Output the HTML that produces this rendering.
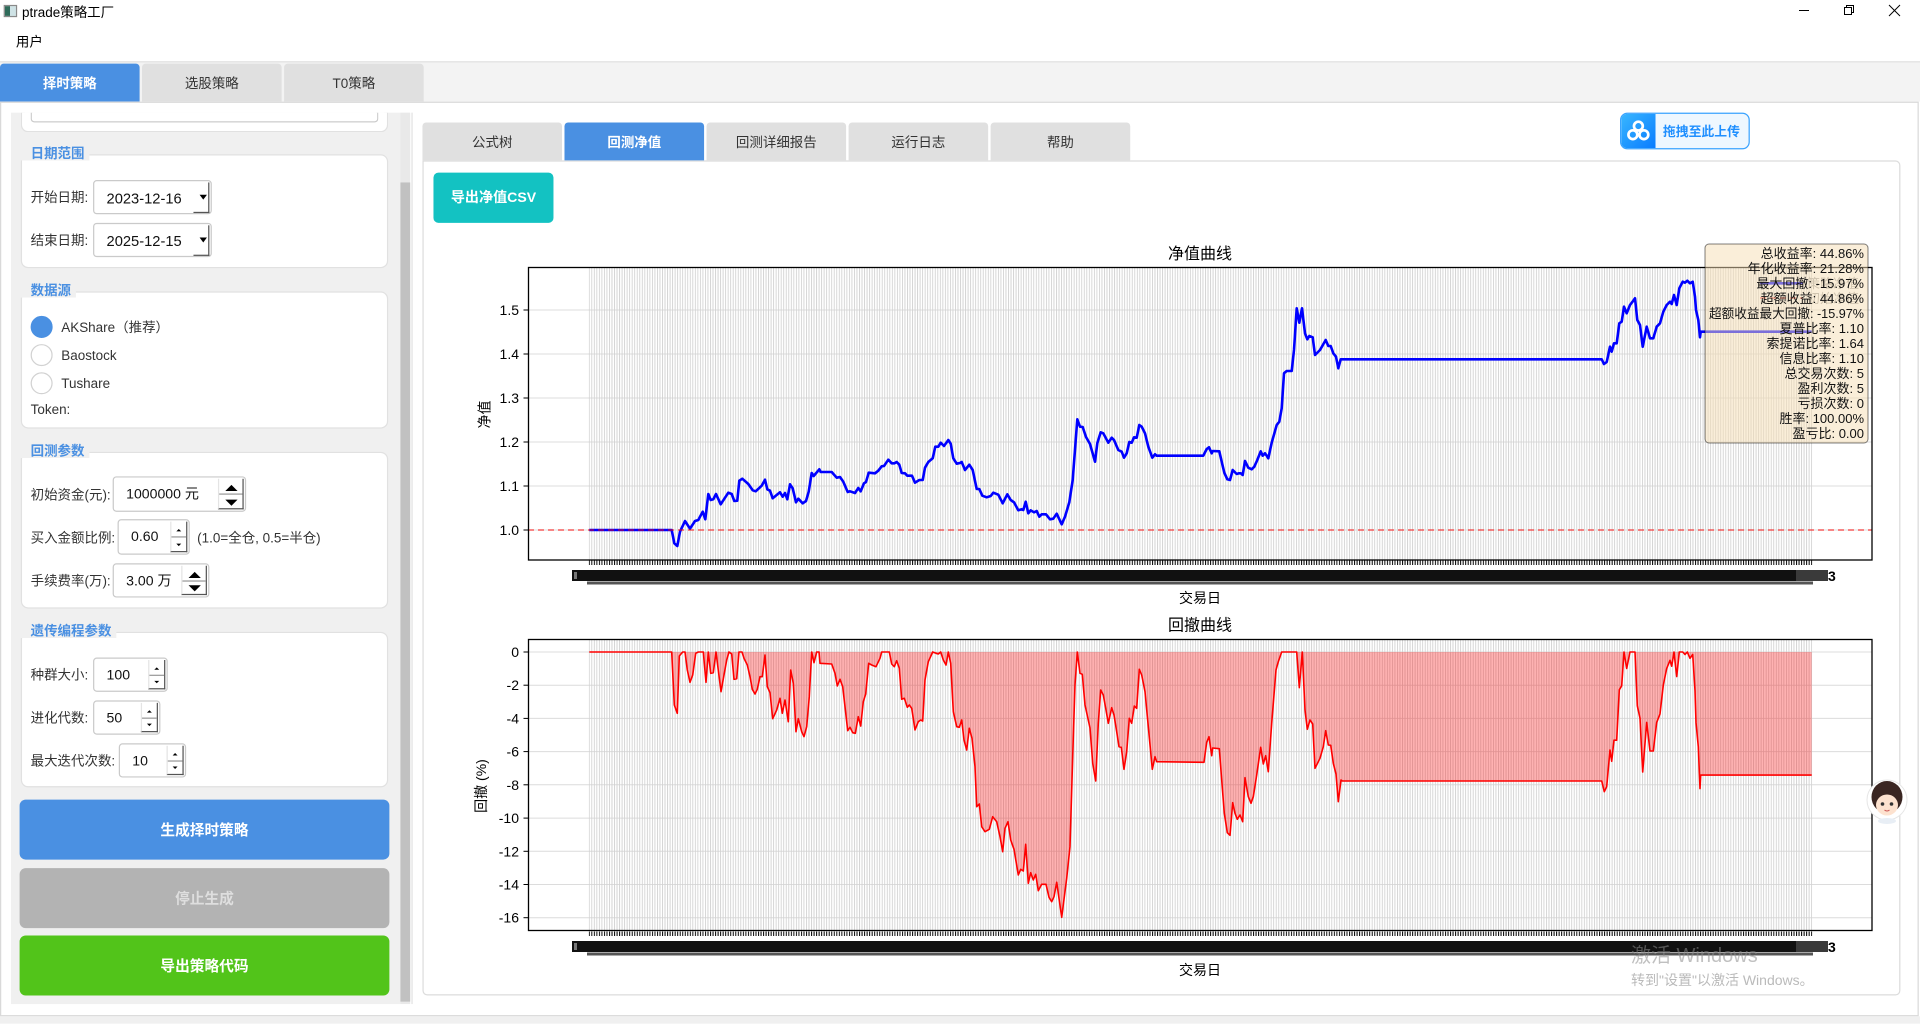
<!DOCTYPE html>
<html><head><meta charset="utf-8">
<style>
*{margin:0;padding:0;box-sizing:border-box}
html,body{width:1920px;height:1024px;overflow:hidden;background:#fff}
body{font-family:"Liberation Sans","Noto Sans CJK SC",sans-serif;position:relative}
#ui{position:absolute;left:0;top:0;width:1568px;height:836px;transform:scale(1.2244898);transform-origin:0 0;background:#fff;font-size:11px;color:#333}
.a{position:absolute}
.tab{position:absolute;background:#e0e0e0;color:#333;text-align:center;font-size:11px;border-radius:3px 3px 0 0;line-height:35px}
.tab.sel{background:#4a90e2;color:#fff;font-weight:bold}
.gb{position:absolute;left:17px;width:300px;background:#fff;border:1px solid #e1e1e1;border-radius:6px}
.gt{position:absolute;left:17px;height:14px;line-height:18px;padding:0 4px 0 8px;background:#f0f0f0;color:#4a90e2;font-weight:bold;font-size:11px;white-space:nowrap}
.lbl{position:absolute;font-size:11px;line-height:17px;color:#333;white-space:nowrap}
.box{position:absolute;background:#fff;border:1px solid #cacaca;border-radius:3px}
.val{position:absolute;left:10px;top:1px;font-size:11.5px;color:#111;white-space:nowrap}
.sb{position:absolute;right:1px;top:1px;bottom:1px;border-right:1px solid #555;border-bottom:1px solid #555;border-left:1px solid #e4e4e4}
.sb .mid{position:absolute;left:0;right:0;top:50%;height:1px;background:#999}
.tu{position:absolute;left:50%;width:0;height:0;border-left:5px solid transparent;border-right:5px solid transparent;border-bottom:5px solid #000;transform:translateX(-50%)}
.td{position:absolute;left:50%;width:0;height:0;border-left:5px solid transparent;border-right:5px solid transparent;border-top:5px solid #000;transform:translateX(-50%)}
.stu{position:absolute;left:50%;width:0;height:0;border-left:2px solid transparent;border-right:2px solid transparent;border-bottom:2px solid #000;transform:translateX(-50%)}
.std{position:absolute;left:50%;width:0;height:0;border-left:2px solid transparent;border-right:2px solid transparent;border-top:2px solid #000;transform:translateX(-50%)}
.rad{position:absolute;left:25px;width:18px;height:18px;border-radius:50%;background:#fff;border:1.5px solid #d2d2d2}
.btn{position:absolute;left:16px;width:302px;height:49px;border-radius:5px;color:#fff;font-weight:bold;font-size:12px;text-align:center;line-height:51px}
</style></head><body>
<div id="ui">
 <!-- title bar -->
 <div class="a" style="left:3px;top:4px;width:11px;height:10px;border:1px solid #8a8a8a;background:linear-gradient(90deg,#2f6b5a 0 45%,#cfe3e6 45%)"></div>
 <div class="a" style="left:18px;top:3px;font-size:11px;line-height:16px;color:#000">ptrade策略工厂</div>
 <div class="a" style="left:13px;top:28px;font-size:11px;line-height:15px;color:#000">用户</div>
 <div class="a" style="left:0;top:50px;width:1568px;height:1px;background:#dedede"></div>
 <div class="a" style="left:0;top:51px;width:1568px;height:32px;background:#f3f3f3"></div>
 <div class="tab sel" style="left:0;top:52px;width:114px;height:31px">择时策略</div>
 <div class="tab" style="left:116px;top:52px;width:114px;height:31px">选股策略</div>
 <div class="tab" style="left:232px;top:52px;width:114px;height:31px">T0策略</div>
 <!-- main pane -->
 <div class="a" style="left:0;top:83px;width:1567px;height:747px;border:1px solid #d9d9d9;background:#fff"></div>
 <div class="a" style="left:0;top:830px;width:1568px;height:6px;background:#f0f0f0"></div>

 <!-- left scroll area -->
 <div class="a" style="left:9px;top:92px;width:318px;height:728px;background:#f0f0f0"></div>
 <div class="a" style="left:327px;top:92px;width:8px;height:728px;background:#e9e9e9"></div>
 <div class="a" style="left:327px;top:149px;width:8px;height:669px;background:#c1c1c1"></div>
 <div class="a" style="left:336px;top:92px;width:1px;height:728px;background:#e2e2e2"></div>

 <!-- partial box -->
 <div class="a" style="left:17px;top:92px;width:300px;height:16px;background:#fff;border:1px solid #e1e1e1;border-top:none;border-radius:0 0 6px 6px"></div>
 <div class="a" style="left:25px;top:92px;width:284px;height:8px;background:#fff;border:1px solid #cacaca;border-top:none;border-radius:0 0 3px 3px"></div>

 <!-- 日期范围 -->
 <div class="gb" style="top:126px;height:93px"></div>
 <div class="gt" style="top:117px">日期范围</div>
 <div class="lbl" style="left:25px;top:154px">开始日期:</div>
 <div class="box" style="left:76px;top:147px;width:97px;height:28px"><div class="val" style="font-size:12px;line-height:26px">2023-12-16</div>
   <div class="a" style="right:1px;top:1px;width:13px;height:25px;border-right:1.5px solid #555;border-bottom:1.5px solid #555"></div>
   <div class="td" style="left:89px;top:11px;border-left-width:3px;border-right-width:3px;border-top-width:4px"></div></div>
 <div class="lbl" style="left:25px;top:189px">结束日期:</div>
 <div class="box" style="left:76px;top:182px;width:97px;height:28px"><div class="val" style="font-size:12px;line-height:26px">2025-12-15</div>
   <div class="a" style="right:1px;top:1px;width:13px;height:25px;border-right:1.5px solid #555;border-bottom:1.5px solid #555"></div>
   <div class="td" style="left:89px;top:11px;border-left-width:3px;border-right-width:3px;border-top-width:4px"></div></div>

 <!-- 数据源 -->
 <div class="gb" style="top:238px;height:112px"></div>
 <div class="gt" style="top:229px">数据源</div>
 <div class="rad" style="top:258px;background:#4a90e2;border-color:#4a90e2"></div>
 <div class="lbl" style="left:50px;top:260px">AKShare（推荐）</div>
 <div class="rad" style="top:281px"></div>
 <div class="lbl" style="left:50px;top:283px">Baostock</div>
 <div class="rad" style="top:304px"></div>
 <div class="lbl" style="left:50px;top:306px">Tushare</div>
 <div class="lbl" style="left:25px;top:327px">Token:</div>

 <!-- 回测参数 -->
 <div class="gb" style="top:369px;height:128px"></div>
 <div class="gt" style="top:360px">回测参数</div>
 <div class="lbl" style="left:25px;top:397px">初始资金(元):</div>
 <div class="box" style="left:92px;top:389px;width:109px;height:29px"><div class="val" style="line-height:27px">1000000 元</div>
   <div class="sb" style="width:21px"><div class="mid"></div><div class="tu" style="top:5px"></div><div class="td" style="top:17px"></div></div></div>
 <div class="lbl" style="left:25px;top:432px">买入金额比例:</div>
 <div class="box" style="left:96px;top:424px;width:59px;height:29px"><div class="val" style="line-height:27px">0.60</div>
   <div class="sb" style="width:14px"><div class="mid"></div><div class="stu" style="top:6px"></div><div class="std" style="top:18px"></div></div></div>
 <div class="lbl" style="left:161px;top:432px">(1.0=全仓, 0.5=半仓)</div>
 <div class="lbl" style="left:25px;top:467px">手续费率(万):</div>
 <div class="box" style="left:92px;top:460px;width:79px;height:28px"><div class="val" style="line-height:26px">3.00 万</div>
   <div class="sb" style="width:21px"><div class="mid"></div><div class="tu" style="top:5px"></div><div class="td" style="top:16px"></div></div></div>

 <!-- 遗传编程参数 -->
 <div class="gb" style="top:516px;height:127px"></div>
 <div class="gt" style="top:507px">遗传编程参数</div>
 <div class="lbl" style="left:25px;top:544px">种群大小:</div>
 <div class="box" style="left:76px;top:537px;width:61px;height:28px"><div class="val" style="line-height:26px">100</div>
   <div class="sb" style="width:14px"><div class="mid"></div><div class="stu" style="top:6px"></div><div class="std" style="top:17px"></div></div></div>
 <div class="lbl" style="left:25px;top:579px">进化代数:</div>
 <div class="box" style="left:76px;top:572px;width:55px;height:28px"><div class="val" style="line-height:26px">50</div>
   <div class="sb" style="width:14px"><div class="mid"></div><div class="stu" style="top:6px"></div><div class="std" style="top:17px"></div></div></div>
 <div class="lbl" style="left:25px;top:614px">最大迭代次数:</div>
 <div class="box" style="left:97px;top:607px;width:55px;height:28px"><div class="val" style="line-height:26px">10</div>
   <div class="sb" style="width:14px"><div class="mid"></div><div class="stu" style="top:6px"></div><div class="std" style="top:17px"></div></div></div>

 <div class="btn" style="top:653px;background:#4a90e2">生成择时策略</div>
 <div class="btn" style="top:709px;background:#b3b3b3;color:#dedede">停止生成</div>
 <div class="btn" style="top:764px;background:#52c41a">导出策略代码</div>

 <!-- right side -->
 <div class="a" style="left:345px;top:131px;width:1207px;height:682px;border:1px solid #dcdcdc;border-radius:0 4px 4px 4px;background:#fff"></div>
 <div class="tab" style="left:345px;top:100px;width:114px;height:31px">公式树</div>
 <div class="tab sel" style="left:461px;top:100px;width:114px;height:31px">回测净值</div>
 <div class="tab" style="left:577px;top:100px;width:114px;height:31px">回测详细报告</div>
 <div class="tab" style="left:693px;top:100px;width:114px;height:31px">运行日志</div>
 <div class="tab" style="left:809px;top:100px;width:114px;height:31px">帮助</div>

 <div class="a" style="left:354px;top:141px;width:98px;height:41px;background:#13c2c2;border-radius:4px;color:#fff;font-weight:bold;font-size:11.5px;text-align:center;line-height:43px">导出净值CSV</div>

 <div class="a" style="left:1323px;top:92px;width:106px;height:30px;border:1px solid #3aa3ff;border-radius:6px;background:#eef7ff;overflow:hidden">
   <div class="a" style="left:0;top:0;width:28px;height:28px;background:linear-gradient(135deg,#38b6ff,#0a7cff)">
     <svg width="28" height="28" style="position:absolute;left:0;top:0"><g fill="none" stroke="#fff" stroke-width="2.2"><circle cx="14" cy="10" r="3.6"/><circle cx="9.5" cy="17" r="3.6"/><circle cx="18.5" cy="17" r="3.6"/></g></svg>
   </div>
   <div class="a" style="left:34px;top:1px;line-height:29px;font-size:10.5px;font-weight:bold;color:#1f8fff;white-space:nowrap">拖拽至此上传</div>
 </div>
</div>

<svg width="1920" height="1024" viewBox="0 0 1920 1024" style="position:absolute;left:0;top:0" font-family="Liberation Sans, Noto Sans CJK SC, sans-serif">
 <defs>
  <pattern id="vg" patternUnits="userSpaceOnUse" x="588.8" y="0" width="2.5256" height="20"><rect x="0" y="0" width="0.9" height="20" fill="#d2d2d2"/></pattern>
  <pattern id="tk" patternUnits="userSpaceOnUse" x="588.8" y="0" width="2.5256" height="20"><rect x="0" y="0" width="1" height="20" fill="#000"/></pattern>
 </defs>
 <!-- window controls -->
 <g stroke="#000" stroke-width="1" fill="none">
  <line x1="1799" y1="10.5" x2="1809" y2="10.5"/>
  <rect x="1844.5" y="7.5" width="7" height="7"/>
  <polyline points="1846.5,7.5 1846.5,5.5 1853.5,5.5 1853.5,12.5 1851.5,12.5"/>
  <line x1="1889" y1="5" x2="1900" y2="16"/><line x1="1900" y1="5" x2="1889" y2="16"/>
 </g>

 <!-- ===== Chart 1 ===== -->
 <g stroke="#dcdcdc" stroke-width="1">
  <line x1="528" y1="310" x2="1872" y2="310"/><line x1="528" y1="354" x2="1872" y2="354"/>
  <line x1="528" y1="398" x2="1872" y2="398"/><line x1="528" y1="442" x2="1872" y2="442"/>
  <line x1="528" y1="486" x2="1872" y2="486"/><line x1="528" y1="530" x2="1872" y2="530"/>
 </g>
 <rect x="588.8" y="267" width="1223.4" height="293" fill="url(#vg)"/>
 <polyline fill="none" stroke="#0000ff" stroke-width="2.6" stroke-linejoin="round" points="589.3,530 671.7,530 674.3,543.3 677.3,546 680,531.7 685,521 690,528.7 695,521 698.3,520 702.7,511.7 705.3,519.3 708.3,494 710.7,500 713.3,499.3 716,494 720.7,504.3 728.3,492.7 731.7,494 734.3,501 737.3,500.7 739.3,480.7 742.3,478.7 748.3,484 752.7,490.3 755.7,491.3 761.7,485.7 765,479.7 767.3,489.3 770,490.7 772.7,498.3 780,492.3 782.7,496.7 785,493 787.3,499.3 790,484.3 792.7,488.3 796,502.3 798.3,498.7 802.7,503.3 806,501 808.7,491.7 811.7,473 813.7,476 819.3,469.3 820.7,472 831.7,472 836.7,477.7 840,477 843.3,481.7 847.7,492 850,491.3 855,493 858.3,488 860.7,491.3 864,483.3 866,482 868.7,472.7 875,473.3 878.3,470.7 881.7,466.3 884,466 888.3,459.7 891.7,463.3 894.3,463.3 896.7,462 899.3,464.7 901.7,473 905,473.3 907.3,475.7 912,475.7 915,482.7 919.3,480 922.7,480 925,467.7 928.3,462 932.7,458.3 935.3,446.7 938.3,446.7 940.7,442.7 944,446 948.3,440 950.7,443.7 953.3,458.3 956.7,463.7 960,463 961.7,462 965,470 969.3,464.7 972.7,470 976.7,489 979.3,489 982.3,495.7 986.7,497.3 990.7,496 993.3,492.7 998.3,494.7 1002.7,503.3 1007.3,494.3 1010.7,500 1014,502.3 1018.3,510.3 1021.7,509.3 1023.3,510 1025.7,501.7 1028.3,513.3 1030.7,510.3 1034,512.3 1036.7,511 1039.3,516.7 1041.7,514.3 1046,514.3 1050,519.3 1053.3,518.7 1056.7,513.7 1061.7,524.3 1065,516.7 1069.3,502.3 1072.7,480 1077.3,419.3 1080,426.7 1082.7,427 1086,437 1090,444 1095,461.7 1097.3,443.3 1100.7,432.3 1103.3,433.3 1108.3,442.7 1111.7,437.7 1114,440 1118.3,450 1121.7,451.7 1124,457.7 1126.7,453.3 1129.3,442 1131.7,442.7 1134,437.3 1136.7,437.7 1139.3,425 1141.7,426.7 1145,433.3 1148.3,446.7 1152.3,457.7 1155,454.3 1156.7,455.7 1203.3,455.7 1206.7,449 1209,447.3 1211.7,453.3 1212.7,451 1219.3,451.3 1221.7,461.7 1224.3,472.7 1227.3,479.3 1230,480 1232.7,470 1236.7,474 1239,473.3 1240.7,473.3 1242.7,475 1245,461 1248.3,467.7 1251.7,469.3 1254.3,466.7 1257.3,460 1260.7,451.3 1262.7,455.7 1265,453.3 1266.7,455.7 1268.3,458.3 1271.7,442.7 1276.7,425 1279.3,421.7 1281.7,408.3 1284,373.3 1286.7,371 1291.7,371 1294,350 1296.7,308.3 1299.3,322.7 1302,308.3 1305,333.3 1307.3,339.3 1309.3,336 1312.7,337.3 1315,355 1320,350 1325.7,340 1328.3,346 1330.7,346 1333.3,353.3 1336,356.7 1338.3,368.3 1340.7,359.3 1601.7,359.3 1604,364 1606.7,362 1610,346.7 1611.7,351.7 1614,343.3 1616.7,343.3 1619.3,323.3 1621.7,321.7 1624,306.7 1626.7,313.3 1630,305 1633.3,300.7 1635,298.3 1637.3,320 1640,325 1642.7,346.7 1646.7,326.7 1650,338.3 1653.3,338.3 1656.7,326.7 1660,323.3 1663.3,311.7 1666.7,305 1670,301.7 1671.7,304 1674,295 1676.7,305 1679.3,288.3 1682.7,281.7 1685,282.7 1687.3,280.7 1690,283.3 1692.7,281.7 1695,296.7 1696,310 1698.3,320 1700,337.3 1700.7,331.7 1811.7,331.7"/>
 <line x1="528" y1="530" x2="1872" y2="530" stroke="#ff0000" stroke-opacity="0.6" stroke-width="1.6" stroke-dasharray="6 4"/>
 <rect x="528.5" y="267.5" width="1343.5" height="292.5" fill="none" stroke="#000" stroke-width="1.3"/>
 <g stroke="#000" stroke-width="1">
  <line x1="523.5" y1="310" x2="528" y2="310"/><line x1="523.5" y1="354" x2="528" y2="354"/>
  <line x1="523.5" y1="398" x2="528" y2="398"/><line x1="523.5" y1="442" x2="528" y2="442"/>
  <line x1="523.5" y1="486" x2="528" y2="486"/><line x1="523.5" y1="530" x2="528" y2="530"/>
 </g>
 <g font-size="14" fill="#000" text-anchor="end">
  <text x="519" y="315">1.5</text><text x="519" y="359">1.4</text><text x="519" y="403">1.3</text>
  <text x="519" y="447">1.2</text><text x="519" y="491">1.1</text><text x="519" y="535">1.0</text>
 </g>
 <rect x="588.8" y="560.5" width="1223.4" height="4.5" fill="url(#tk)"/>
 <rect x="572" y="570" width="1224" height="11" fill="#111"/>
 <rect x="574" y="572" width="3" height="7" fill="#777"/>
 <rect x="1796" y="570" width="32" height="11" fill="#3a3a3a"/>
 <text x="1828" y="581" font-size="14" font-weight="bold" fill="#000">3</text>
 <rect x="587" y="581.5" width="1226" height="3" fill="#555"/>
 <text x="1200" y="259" font-size="16" text-anchor="middle" fill="#000">净值曲线</text>
 <text x="1200" y="603" font-size="14" text-anchor="middle" fill="#000">交易日</text>
 <text transform="translate(484.7,414.5) rotate(-90)" y="5" font-size="14" text-anchor="middle" fill="#000">净值</text>

 <!-- legend (mostly hidden) -->
 <line x1="1760" y1="283.3" x2="1803" y2="283.3" stroke="#0000ff" stroke-width="2.6"/>
 <line x1="1760" y1="298" x2="1803" y2="298" stroke="#ff0000" stroke-opacity="0.6" stroke-width="1.6" stroke-dasharray="6 4"/>
 <text x="1807" y="288" font-size="13" fill="#aaa">策略净值</text>
 <text x="1807" y="303" font-size="13" fill="#aaa">初始净值</text>
 <!-- stats box -->
 <rect x="1705" y="244" width="163" height="199" rx="4" fill="#f5deb3" fill-opacity="0.5" stroke="#000" stroke-opacity="0.5" stroke-width="1"/>
 <g font-size="13" fill="#111" text-anchor="end">
  <text x="1864" y="258">总收益率: 44.86%</text>
  <text x="1864" y="273">年化收益率: 21.28%</text>
  <text x="1864" y="288">最大回撤: -15.97%</text>
  <text x="1864" y="303">超额收益: 44.86%</text>
  <text x="1864" y="318" textLength="155" lengthAdjust="spacingAndGlyphs">超额收益最大回撤: -15.97%</text>
  <text x="1864" y="333">夏普比率: 1.10</text>
  <text x="1864" y="348">索提诺比率: 1.64</text>
  <text x="1864" y="363">信息比率: 1.10</text>
  <text x="1864" y="378">总交易次数: 5</text>
  <text x="1864" y="393">盈利次数: 5</text>
  <text x="1864" y="408">亏损次数: 0</text>
  <text x="1864" y="423">胜率: 100.00%</text>
  <text x="1864" y="438">盈亏比: 0.00</text>
 </g>

 <!-- ===== Chart 2 ===== -->
 <g stroke="#dcdcdc" stroke-width="1">
  <line x1="528" y1="652" x2="1872" y2="652"/><line x1="528" y1="685.2" x2="1872" y2="685.2"/>
  <line x1="528" y1="718.4" x2="1872" y2="718.4"/><line x1="528" y1="751.6" x2="1872" y2="751.6"/>
  <line x1="528" y1="784.8" x2="1872" y2="784.8"/><line x1="528" y1="818.1" x2="1872" y2="818.1"/>
  <line x1="528" y1="851.3" x2="1872" y2="851.3"/><line x1="528" y1="884.5" x2="1872" y2="884.5"/>
  <line x1="528" y1="917.7" x2="1872" y2="917.7"/>
 </g>
 <rect x="588.8" y="639" width="1223.4" height="292" fill="url(#vg)"/>
 <polygon fill="#ff0000" fill-opacity="0.3" points="589.3,652 671.7,652 674.3,705 677.3,713.3 679.3,656 682.7,652 685,652 687.3,670 690,682.3 692.7,675 695.7,653.3 698.3,652 703.3,652 706,682.3 708.3,652 710.7,673.3 713.3,672.7 716,652 721,691.7 726.7,660 729,652 731.7,654 734,679.3 736.7,678.7 739,652 742,652 744,658.3 747.3,665 750,676.7 752.3,689.3 755,694 757.3,689.3 760,676.7 762.3,676.7 765,655 767.3,686.7 770,692.7 772.7,718.7 776.7,710 780,698.3 782.3,713.3 785,700 788.3,721.7 790.7,670 793.3,683.3 796,731.7 798.3,718.7 801.7,731.7 804,736.7 806.7,726.7 809.3,696.7 811.7,652 814,662.7 816.7,652 819,652 820,663.3 831.7,664 835,673.3 837.3,686 840,679.3 842.7,686.7 845,706.7 847.7,730.7 850,727.3 852.7,732.7 855.3,733.3 858.3,716.7 860.7,726 863.3,701.7 865.7,694 868.7,663.3 871.7,665 876,666.7 880,658.3 881.7,652 889.3,652 891.7,664 894.3,666.7 896.7,660.7 899.3,668.3 901.7,699.3 904.3,698.3 907.3,707.3 909.3,705 911.7,708.3 915,730 918.3,721.7 920.7,720 922.7,721 925,680 928.3,661.7 932.7,652 936,653.3 938.3,654 940.7,652 943.3,660 946,665 948.3,652 950.7,663.3 953.3,711.7 956.7,726.7 959.3,727.3 961.7,720 964,740 966.7,750 969.3,728.3 972,738.3 975,766.7 976.7,806.7 979.3,804 981.7,826.7 985,831.7 989.3,829.3 992.7,816.7 996.7,821.7 1000,836.7 1002.7,851.7 1005,828.3 1008,821.7 1010.7,840 1014,849.3 1018.3,875 1020.7,869.3 1023.3,871 1025.7,844.3 1028.3,883.3 1030.7,872.7 1033.3,880 1035.7,874.3 1038.3,890.7 1041.7,884.3 1046,884.3 1049,897.3 1051.7,901.7 1054,896.7 1056.7,882.3 1061.7,917.3 1066.7,878.3 1070,846.7 1072.7,756.7 1075,685 1077.3,652 1080,673.3 1082.3,674.3 1085,705 1090,728 1092.7,763.3 1095.7,781 1098.3,723.3 1100.7,690 1103.3,695 1106,710 1108.3,723.3 1111.7,707.7 1114,715 1116.7,731.7 1119,746.7 1121.3,747.3 1124,769.3 1126.7,751.7 1129.3,718.3 1131.7,723.3 1134.3,706 1136.7,708.3 1139.3,669.3 1141.7,675 1145,691.7 1148.3,726.7 1152.3,769.3 1155,756.7 1156.7,761.7 1204,762.3 1206.7,742.3 1209,736.7 1211.7,755.7 1212.7,748 1219.3,748.7 1221.7,780 1224.3,813.3 1227.3,832.7 1230,835.3 1232.7,802.7 1235,813.3 1237.3,819.3 1240,815 1242.7,821.7 1245,777.7 1248.3,796.7 1251,803.3 1253.3,796.7 1256.7,775 1260.7,747.3 1263.3,764 1265.7,755.7 1268.3,771.7 1271.7,723.3 1276,670 1278.3,661.7 1281.7,652 1296.7,652 1299.3,687.7 1302.3,652 1305,710 1307.3,729.3 1310,720 1312.7,724 1315,768.3 1320,758.3 1323.3,746.7 1325.7,730.7 1328.3,745 1330.7,745.3 1333.3,763.3 1336,774 1338.3,801.7 1341,780 1342.3,781 1601.7,781 1604.3,791.7 1606.7,786.7 1610,750 1611.7,761.3 1614,740.2 1616.7,740.2 1619.3,689.8 1621.7,685.8 1624,652 1626.7,668.5 1630,652 1633.3,652 1635,652 1637.3,705.8 1640,718.2 1642.7,772 1646.7,722.4 1650,751 1653.3,751 1656.7,722.4 1660,713.9 1663.3,685.1 1666.7,668.5 1670,660.3 1671.7,666.2 1674,652 1676.7,676.6 1679.3,652 1682.7,652 1685,654.5 1687.3,652 1690,658.3 1692.7,654.5 1695,690.6 1696,722.7 1698.3,746.8 1700,788.6 1700.7,775.1 1811.7,775.1 1811.7,652"/>
 <polyline fill="none" stroke="#ff0000" stroke-width="1.6" stroke-linejoin="round" points="589.3,652 671.7,652 674.3,705 677.3,713.3 679.3,656 682.7,652 685,652 687.3,670 690,682.3 692.7,675 695.7,653.3 698.3,652 703.3,652 706,682.3 708.3,652 710.7,673.3 713.3,672.7 716,652 721,691.7 726.7,660 729,652 731.7,654 734,679.3 736.7,678.7 739,652 742,652 744,658.3 747.3,665 750,676.7 752.3,689.3 755,694 757.3,689.3 760,676.7 762.3,676.7 765,655 767.3,686.7 770,692.7 772.7,718.7 776.7,710 780,698.3 782.3,713.3 785,700 788.3,721.7 790.7,670 793.3,683.3 796,731.7 798.3,718.7 801.7,731.7 804,736.7 806.7,726.7 809.3,696.7 811.7,652 814,662.7 816.7,652 819,652 820,663.3 831.7,664 835,673.3 837.3,686 840,679.3 842.7,686.7 845,706.7 847.7,730.7 850,727.3 852.7,732.7 855.3,733.3 858.3,716.7 860.7,726 863.3,701.7 865.7,694 868.7,663.3 871.7,665 876,666.7 880,658.3 881.7,652 889.3,652 891.7,664 894.3,666.7 896.7,660.7 899.3,668.3 901.7,699.3 904.3,698.3 907.3,707.3 909.3,705 911.7,708.3 915,730 918.3,721.7 920.7,720 922.7,721 925,680 928.3,661.7 932.7,652 936,653.3 938.3,654 940.7,652 943.3,660 946,665 948.3,652 950.7,663.3 953.3,711.7 956.7,726.7 959.3,727.3 961.7,720 964,740 966.7,750 969.3,728.3 972,738.3 975,766.7 976.7,806.7 979.3,804 981.7,826.7 985,831.7 989.3,829.3 992.7,816.7 996.7,821.7 1000,836.7 1002.7,851.7 1005,828.3 1008,821.7 1010.7,840 1014,849.3 1018.3,875 1020.7,869.3 1023.3,871 1025.7,844.3 1028.3,883.3 1030.7,872.7 1033.3,880 1035.7,874.3 1038.3,890.7 1041.7,884.3 1046,884.3 1049,897.3 1051.7,901.7 1054,896.7 1056.7,882.3 1061.7,917.3 1066.7,878.3 1070,846.7 1072.7,756.7 1075,685 1077.3,652 1080,673.3 1082.3,674.3 1085,705 1090,728 1092.7,763.3 1095.7,781 1098.3,723.3 1100.7,690 1103.3,695 1106,710 1108.3,723.3 1111.7,707.7 1114,715 1116.7,731.7 1119,746.7 1121.3,747.3 1124,769.3 1126.7,751.7 1129.3,718.3 1131.7,723.3 1134.3,706 1136.7,708.3 1139.3,669.3 1141.7,675 1145,691.7 1148.3,726.7 1152.3,769.3 1155,756.7 1156.7,761.7 1204,762.3 1206.7,742.3 1209,736.7 1211.7,755.7 1212.7,748 1219.3,748.7 1221.7,780 1224.3,813.3 1227.3,832.7 1230,835.3 1232.7,802.7 1235,813.3 1237.3,819.3 1240,815 1242.7,821.7 1245,777.7 1248.3,796.7 1251,803.3 1253.3,796.7 1256.7,775 1260.7,747.3 1263.3,764 1265.7,755.7 1268.3,771.7 1271.7,723.3 1276,670 1278.3,661.7 1281.7,652 1296.7,652 1299.3,687.7 1302.3,652 1305,710 1307.3,729.3 1310,720 1312.7,724 1315,768.3 1320,758.3 1323.3,746.7 1325.7,730.7 1328.3,745 1330.7,745.3 1333.3,763.3 1336,774 1338.3,801.7 1341,780 1342.3,781 1601.7,781 1604.3,791.7 1606.7,786.7 1610,750 1611.7,761.3 1614,740.2 1616.7,740.2 1619.3,689.8 1621.7,685.8 1624,652 1626.7,668.5 1630,652 1633.3,652 1635,652 1637.3,705.8 1640,718.2 1642.7,772 1646.7,722.4 1650,751 1653.3,751 1656.7,722.4 1660,713.9 1663.3,685.1 1666.7,668.5 1670,660.3 1671.7,666.2 1674,652 1676.7,676.6 1679.3,652 1682.7,652 1685,654.5 1687.3,652 1690,658.3 1692.7,654.5 1695,690.6 1696,722.7 1698.3,746.8 1700,788.6 1700.7,775.1 1811.7,775.1"/>
 <rect x="528.5" y="639.5" width="1343.5" height="291" fill="none" stroke="#000" stroke-width="1.3"/>
 <g stroke="#000" stroke-width="1">
  <line x1="523.5" y1="652" x2="528" y2="652"/><line x1="523.5" y1="685.2" x2="528" y2="685.2"/>
  <line x1="523.5" y1="718.4" x2="528" y2="718.4"/><line x1="523.5" y1="751.6" x2="528" y2="751.6"/>
  <line x1="523.5" y1="784.8" x2="528" y2="784.8"/><line x1="523.5" y1="818.1" x2="528" y2="818.1"/>
  <line x1="523.5" y1="851.3" x2="528" y2="851.3"/><line x1="523.5" y1="884.5" x2="528" y2="884.5"/>
  <line x1="523.5" y1="917.7" x2="528" y2="917.7"/>
 </g>
 <g font-size="14" fill="#000" text-anchor="end">
  <text x="519" y="657">0</text><text x="519" y="690.2">-2</text><text x="519" y="723.4">-4</text>
  <text x="519" y="756.6">-6</text><text x="519" y="789.8">-8</text><text x="519" y="823.1">-10</text>
  <text x="519" y="856.3">-12</text><text x="519" y="889.5">-14</text><text x="519" y="922.7">-16</text>
 </g>
 <rect x="588.8" y="931.5" width="1223.4" height="4.5" fill="url(#tk)"/>
 <rect x="572" y="941" width="1224" height="11" fill="#111"/>
 <rect x="574" y="943" width="3" height="7" fill="#777"/>
 <rect x="1796" y="941" width="32" height="11" fill="#3a3a3a"/>
 <text x="1828" y="952" font-size="14" font-weight="bold" fill="#000">3</text>
 <rect x="587" y="952.5" width="1226" height="3" fill="#555"/>
 <text x="1200" y="630.5" font-size="16" text-anchor="middle" fill="#000">回撤曲线</text>
 <text x="1200" y="975" font-size="14" text-anchor="middle" fill="#000">交易日</text>
 <text transform="translate(481,786) rotate(-90)" y="5" font-size="14" text-anchor="middle" fill="#000">回撤 (%)</text>

 <!-- avatar -->
 <g>
  <circle cx="1887" cy="800" r="20" fill="#fff" stroke="#e6e6e6"/>
  <ellipse cx="1887" cy="797" rx="15.5" ry="16" fill="#3a2622"/>
  <ellipse cx="1887" cy="805" rx="11" ry="10.5" fill="#fde2cf"/>
  <path d="M1876,800 Q1887,788 1898,800 L1898,795 Q1887,784 1876,795 Z" fill="#3a2622"/>
  <circle cx="1882.5" cy="804" r="1.8" fill="#333"/><circle cx="1891.5" cy="804" r="1.8" fill="#333"/>
  <path d="M1884.5,810 Q1887,812 1889.5,810" stroke="#c55" stroke-width="1" fill="none"/>
  <ellipse cx="1887" cy="821" rx="9" ry="3" fill="#e8eef5"/>
 </g>

 <!-- windows watermark -->
 <text x="1631" y="962" font-size="20" fill="#8c8c8c" fill-opacity="0.55">激活 Windows</text>
 <text x="1631" y="985" font-size="14" fill="#8c8c8c" fill-opacity="0.6">转到"设置"以激活 Windows。</text>
</svg>
</body></html>
